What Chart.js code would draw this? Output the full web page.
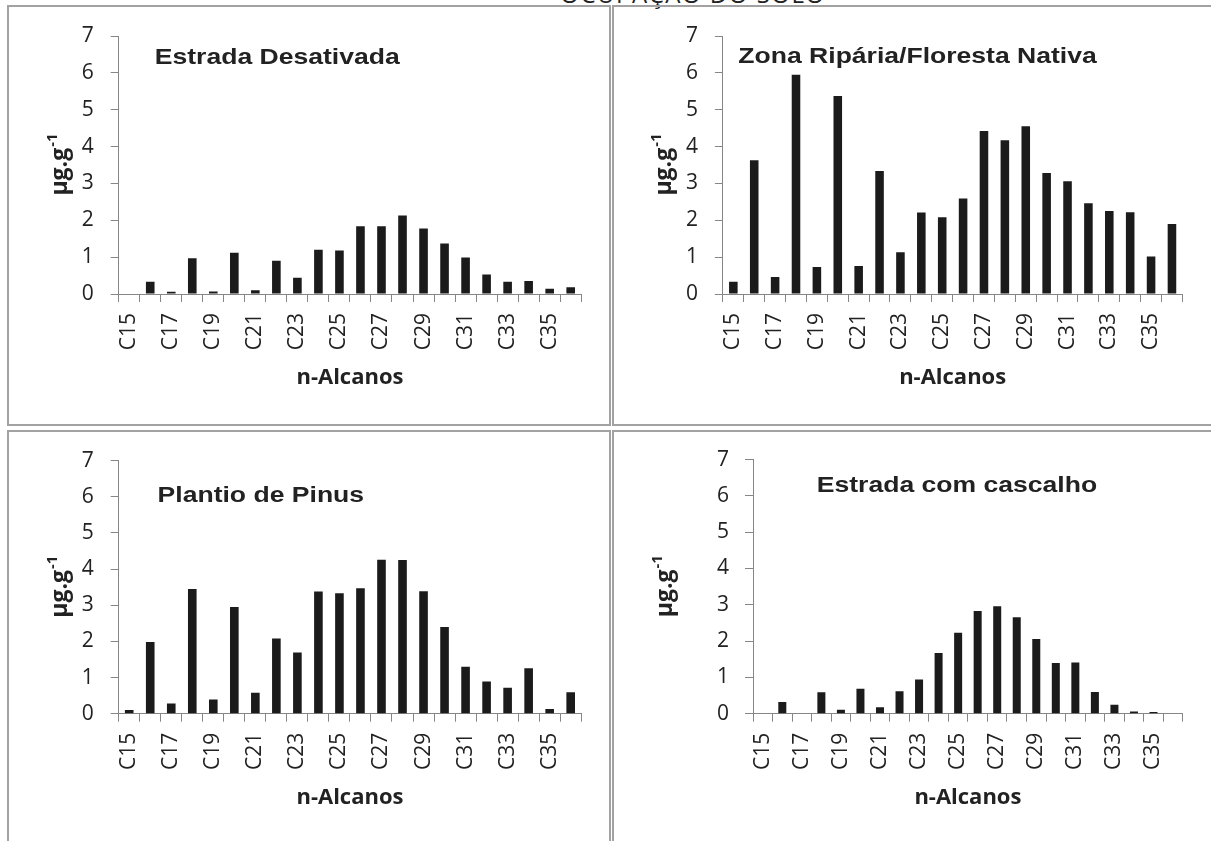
<!DOCTYPE html>
<html>
<head>
<meta charset="utf-8">
<script src="https://cdn.jsdelivr.net/npm/chart.js@4.4.1/dist/chart.umd.min.js"></script>
<style>
  html, body { margin: 0; padding: 0; background: #fff; }
  body { width: 1211px; height: 841px; position: relative; overflow: hidden; }
  .frame { position: absolute; box-sizing: border-box; border: 2px solid #a2a2a2; }
  canvas.panel { position: absolute; }
  #heading {
    position: absolute; left: 493px; top: -18px; width: 400px;
    text-align: center; font-family: "Open Sans", sans-serif; font-size: 24px;
    line-height: 24px; letter-spacing: 1.5px; color: #222;
  }
</style>
</head>
<body>
<div id="heading">OCUPAÇÃO DO SOLO</div>
<div class="frame" style="left:7px;top:5px;width:604px;height:421px"></div>
<div class="frame" style="left:612px;top:5px;width:640px;height:421px"></div>
<div class="frame" style="left:7px;top:430px;width:604px;height:440px"></div>
<div class="frame" style="left:612px;top:430px;width:640px;height:440px"></div>
<canvas id="c1" class="panel"></canvas>
<canvas id="c2" class="panel"></canvas>
<canvas id="c3" class="panel"></canvas>
<canvas id="c4" class="panel"></canvas>
<script>
// n-alkane chain lengths C15 .. C36
const categories = ['C15','C16','C17','C18','C19','C20','C21','C22','C23','C24','C25',
                    'C26','C27','C28','C29','C30','C31','C32','C33','C34','C35','C36'];

// concentrations (µg.g-1) per land use
const estradaDesativada = [0, 0.33, 0.06, 0.97, 0.07, 1.12, 0.10, 0.90, 0.44, 1.20, 1.18,
                           1.84, 1.84, 2.13, 1.78, 1.37, 0.99, 0.53, 0.33, 0.35, 0.14, 0.18];
const zonaRipariaFloresta = [0.33, 3.63, 0.46, 5.95, 0.73, 5.37, 0.76, 3.34, 1.13, 2.21, 2.08,
                             2.59, 4.42, 4.17, 4.55, 3.28, 3.06, 2.46, 2.25, 2.22, 1.02, 1.90];
const plantioPinus = [0.10, 1.98, 0.28, 3.45, 0.39, 2.95, 0.58, 2.08, 1.69, 3.38, 3.33,
                      3.47, 4.26, 4.25, 3.39, 2.40, 1.30, 0.89, 0.72, 1.26, 0.13, 0.59];
const estradaCascalho = [0, 0.32, 0, 0.59, 0.11, 0.69, 0.18, 0.62, 0.94, 1.67, 2.23,
                         2.83, 2.96, 2.66, 2.06, 1.40, 1.41, 0.60, 0.25, 0.06, 0.05, 0];

const panelTitles = ['Estrada Desativada', 'Zona Ripária/Floresta Nativa',
                     'Plantio de Pinus', 'Estrada com cascalho'];
const yAxisMax = 7;
const yAxisStep = 1;
const xAxisTitle = 'n-Alcanos';
const yAxisTitle = 'µg.g';
const yAxisTitleSup = '-1';

// page geometry of each panel: canvas box, plot area, label placements
const layouts = [
  { canvas: {x: 8,   y: 6,   w: 602, h: 420}, plot: {l: 118.7, r: 581.2,  t: 36,    b: 294},
    title: {x: 154.8, y: 63.7}, yTitleX: 67,  yTickPad: 17, xTitleCenter: 378 },
  { canvas: {x: 612, y: 6,   w: 599, h: 420}, plot: {l: 722.9, r: 1182.4, t: 36,    b: 294},
    title: {x: 738.3, y: 62.7}, yTitleX: 671, yTickPad: 17, xTitleCenter: 378 },
  { canvas: {x: 8,   y: 431, w: 602, h: 410}, plot: {l: 118.7, r: 581.2,  t: 459.3, b: 713.7},
    title: {x: 157.6, y: 501.7}, yTitleX: 67, yTickPad: 17, xTitleCenter: 798 },
  { canvas: {x: 612, y: 431, w: 599, h: 410}, plot: {l: 753,   r: 1182.8, t: 459.3, b: 713.7},
    title: {x: 816.8, y: 491.7}, yTitleX: 671.5, yTickPad: 16, xTitleCenter: 798 }
];
const seriesList = [estradaDesativada, zonaRipariaFloresta, plantioPinus, estradaCascalho];

const AXIS_GRAY = '#868686';
const TEXT = '#222222';
const BAR = '#1b1b1b';
const TICK_FONT = { family: 'Open Sans', size: 21 };
const X_TITLE_FONT = { family: 'Open Sans', size: 22, weight: 'bold' };
const CAPTION_FONT = 'bold 22.7px "Liberation Sans"';
const CAPTION_WIDEN = 1.17;   // captions are set slightly wide

// panel caption inside the plot and the rotated unit label with superscript
const panelText = {
  id: 'panelText',
  afterDraw(chart, args, opts) {
    const ctx = chart.ctx;
    const area = chart.chartArea;
    ctx.save();
    ctx.fillStyle = TEXT;
    ctx.textAlign = 'left';
    ctx.textBaseline = 'alphabetic';
    ctx.translate(opts.titleX, opts.titleY);
    ctx.scale(CAPTION_WIDEN, 1);
    ctx.font = CAPTION_FONT;
    ctx.fillText(opts.title, 0, 0);
    ctx.restore();

    ctx.save();
    ctx.fillStyle = TEXT;
    ctx.textAlign = 'left';
    ctx.textBaseline = 'alphabetic';
    ctx.translate(opts.yTitleX, (area.top + area.bottom) / 2);
    ctx.rotate(-Math.PI / 2);
    const mainFont = 'bold 23px "Open Sans"';
    const supFont = 'bold 15px "Open Sans"';
    ctx.font = mainFont;
    const w1 = ctx.measureText(yAxisTitle).width;
    ctx.font = supFont;
    const w2 = ctx.measureText(yAxisTitleSup).width;
    const x0 = -(w1 + w2) / 2;
    ctx.font = mainFont;
    ctx.fillText(yAxisTitle, x0, 0);
    ctx.font = supFont;
    ctx.fillText(yAxisTitleSup, x0 + w1 + 1, -10);
    ctx.restore();
  }
};

layouts.forEach((L, i) => {
  const canvas = document.getElementById('c' + (i + 1));
  canvas.width = L.canvas.w;
  canvas.height = L.canvas.h;
  canvas.style.left = L.canvas.x + 'px';
  canvas.style.top = L.canvas.y + 'px';
  canvas.style.width = L.canvas.w + 'px';
  canvas.style.height = L.canvas.h + 'px';

  const yWidth = L.plot.l - L.canvas.x;
  const xHeight = L.canvas.y + L.canvas.h - L.plot.b;
  const padTop = L.plot.t - L.canvas.y;
  const padRight = L.canvas.x + L.canvas.w - L.plot.r;
  const xTitlePad = (L.canvas.y + L.canvas.h - L.xTitleCenter) - X_TITLE_FONT.size * 1.2 / 2;

  new Chart(canvas, {
    type: 'bar',
    data: {
      labels: categories,
      datasets: [{
        data: seriesList[i],
        backgroundColor: BAR,
        borderWidth: 0,
        barPercentage: 0.41,
        categoryPercentage: 1
      }]
    },
    options: {
      responsive: false,
      animation: false,
      devicePixelRatio: 1,
      layout: { padding: { left: 0, top: padTop, right: padRight, bottom: 0 } },
      plugins: {
        legend: { display: false },
        tooltip: { enabled: false },
        panelText: {
          title: panelTitles[i],
          titleX: L.title.x - L.canvas.x,
          titleY: L.title.y - L.canvas.y,
          yTitleX: L.yTitleX - L.canvas.x
        }
      },
      scales: {
        x: {
          type: 'category',
          offset: true,
          grid: { display: true, drawOnChartArea: false, drawTicks: true, tickLength: 8,
                  color: AXIS_GRAY, lineWidth: 1, offset: true },
          border: { display: true, color: AXIS_GRAY, width: 1 },
          ticks: {
            autoSkip: false, maxRotation: 90, minRotation: 90, padding: 11,
            color: TEXT, font: TICK_FONT,
            callback: (v, idx) => (idx % 2 === 0 ? categories[idx] : '')
          },
          title: {
            display: true, text: xAxisTitle, color: TEXT, font: X_TITLE_FONT,
            padding: { top: 0, bottom: xTitlePad }
          },
          afterFit(scale) { scale.height = xHeight; }
        },
        y: {
          min: 0, max: yAxisMax,
          grid: { display: true, drawOnChartArea: false, drawTicks: true, tickLength: 8,
                  color: AXIS_GRAY, lineWidth: 1 },
          border: { display: true, color: AXIS_GRAY, width: 1 },
          ticks: { stepSize: yAxisStep, padding: L.yTickPad, color: TEXT, font: TICK_FONT },
          afterFit(scale) { scale.width = yWidth; }
        }
      }
    },
    plugins: [panelText]
  });
});
</script>
</body>
</html>
